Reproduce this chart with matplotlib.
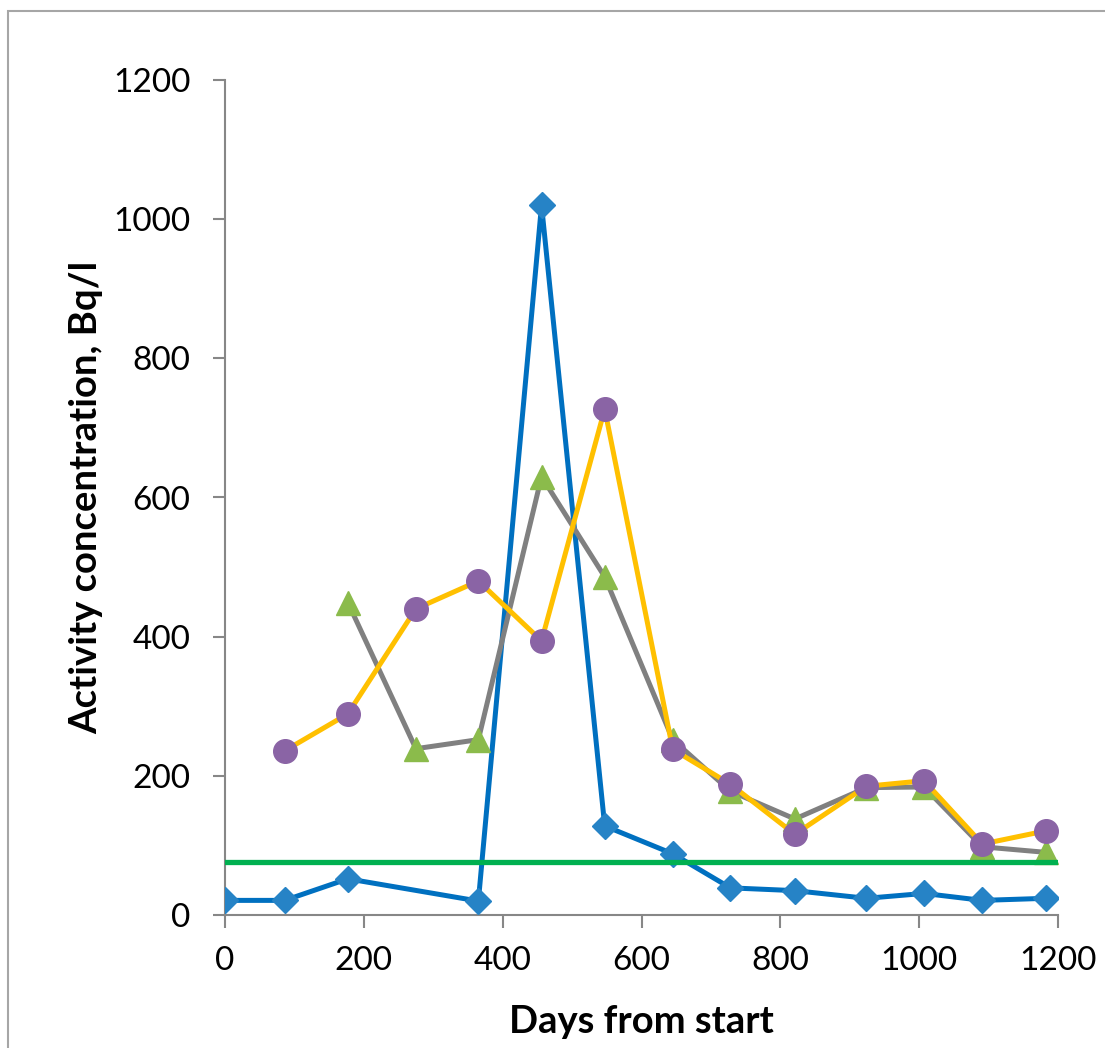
import matplotlib.pyplot as plt
from matplotlib.patches import Rectangle

plt.rcParams['font.family'] = ['Lato', 'DejaVu Sans']

# series (days from start, Bq/l)
days_blue = [0, 86, 177, 365, 456, 547, 645, 728, 821, 924, 1007, 1091, 1183]
vals_blue = [21, 21, 52, 20, 1020, 128, 88, 39, 35, 24, 31, 21, 24]

days_tri = [177, 275, 365, 456, 547, 645, 728, 821, 924, 1007, 1091, 1183]
vals_tri = [449, 239, 252, 630, 486, 252, 178, 138, 183, 184, 98, 90]

days_circ = [86, 177, 275, 365, 456, 547, 645, 728, 821, 924, 1007, 1091, 1183]
vals_circ = [236, 289, 440, 480, 394, 727, 238, 188, 116, 185, 193, 102, 121]

limit_days = [0, 1198]
limit_vals = [76, 76]

xticks = [0, 200, 400, 600, 800, 1000, 1200]
yticks = [0, 200, 400, 600, 800, 1000, 1200]

fig = plt.figure(figsize=(11.05, 10.48), dpi=100)
ax = fig.add_axes([225 / 1105, 1 - 915 / 1048, 833 / 1105, 835 / 1048])

# outer chart border (cropped on right and bottom)
fig.patches.append(Rectangle((8 / 1105, -0.1), 1.2, 1 - 11 / 1048 + 0.1,
                             transform=fig.transFigure, fill=False,
                             edgecolor='#a6a6a6', linewidth=1.5))

ax.plot(days_blue, vals_blue, color='#0070C0', lw=3.6, marker='D',
        markersize=13.5, markerfacecolor='#2683C6', markeredgecolor='#2683C6',
        zorder=3)
ax.plot(days_tri, vals_tri, color='#808080', lw=3.6, marker='^',
        markersize=17, markerfacecolor='#8BBB4B', markeredgecolor='#8BBB4B',
        zorder=4)
ax.plot(days_circ, vals_circ, color='#FFC000', lw=3.6, marker='o',
        markersize=17, markerfacecolor='#8A64A5', markeredgecolor='#8A64A5',
        zorder=5)
ax.plot(limit_days, limit_vals, color='#00B050', lw=3.8, zorder=6)

ax.set_xlim(0, 1200)
ax.set_ylim(0, 1200)
ax.set_xticks(xticks)
ax.set_yticks(yticks)
ax.tick_params(axis='both', labelsize=24, length=9, width=1.5, color='#878787',
               direction='out')
ax.tick_params(axis='y', pad=16)
ax.tick_params(axis='x', pad=13)

for s in ['top', 'right']:
    ax.spines[s].set_visible(False)
for s in ['left', 'bottom']:
    ax.spines[s].set_color('#878787')
    ax.spines[s].set_linewidth(1.5)

ax.set_xlabel('Days from start', fontsize=27.5, fontweight='bold', labelpad=21)
ax.set_ylabel('Activity concentration, Bq/l', fontsize=27.5, fontweight='bold',
              labelpad=7)

fig.savefig('out.png', dpi=100)
